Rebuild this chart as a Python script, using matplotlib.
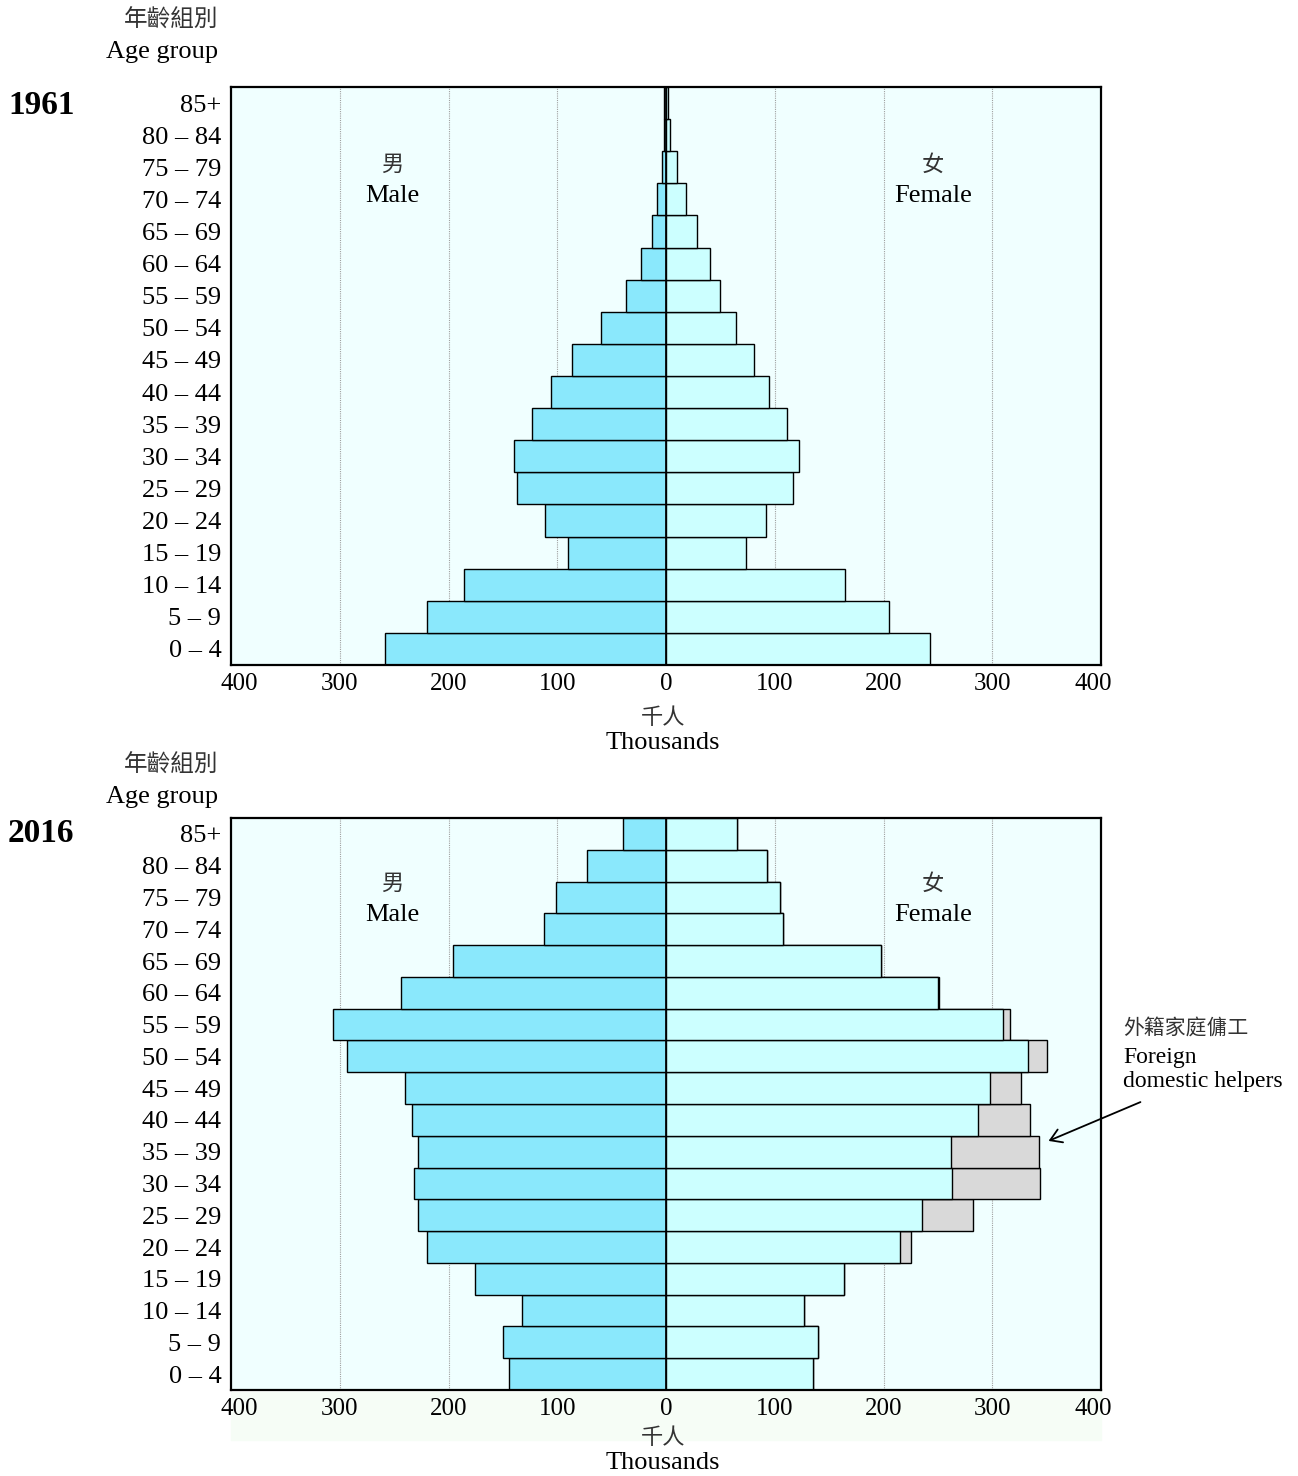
import numpy as np
import matplotlib.pyplot as plt
import matplotlib.transforms as mtrans
from matplotlib.patches import Rectangle, FancyArrowPatch

# Age groups, bottom to top
age_groups = ['0 – 4', '5 – 9', '10 – 14', '15 – 19', '20 – 24', '25 – 29',
              '30 – 34', '35 – 39', '40 – 44', '45 – 49', '50 – 54', '55 – 59',
              '60 – 64', '65 – 69', '70 – 74', '75 – 79', '80 – 84', '85+']

# 1961, thousands
male_1961 = [258, 220, 186, 90, 111, 137, 140, 123, 106, 86, 60, 37, 23, 13, 8, 4, 1.5, 1.5]
female_1961 = [243, 205, 165, 74, 92, 117, 122, 111, 95, 81, 64, 50, 40, 28.5, 18.5, 10, 4, 1.5]

# 2016, thousands (female excluding / including foreign domestic helpers)
male_2016 = [144, 150, 132, 176, 220, 228, 232, 228, 234, 240, 293, 306, 244, 196, 112, 101, 73, 40]
female_2016 = [135, 140, 127, 164, 215, 235, 263, 262, 287, 298, 333, 310, 250, 198, 108, 105, 93, 65]
female_2016_total = [135, 140, 127, 164, 225, 282, 344, 343, 335, 326, 350, 316, 251, 198, 108, 105, 93, 65]

xticks = [-400, -300, -200, -100, 0, 100, 200, 300, 400]

W, H = 1298, 1476
SERIF = ['Liberation Serif', 'DejaVu Serif']
CJK = ['Noto Sans CJK TC', 'DejaVu Sans']

male_col = '#8ae8fc'
female_col = '#ccffff'
fdh_col = '#d9d9d9'
bg_col = '#f0ffff'


def fx(x):
    return x / W


def fy(y):
    return 1 - y / H


fig = plt.figure(figsize=(W / 100, H / 100), dpi=100)


def pyramid(top, bottom, male, female, total=None):
    ax = fig.add_axes([fx(231), fy(bottom), fx(1101) - fx(231), fy(top) - fy(bottom)])
    ax.set_facecolor(bg_col)
    y = np.arange(len(age_groups))
    for g in [-300, -200, -100, 100, 200, 300]:
        ax.axvline(g, color='#a0a0a0', lw=0.8, ls=(0, (1, 1)), zorder=0)
    if total is not None:
        ax.barh(y, total, height=1, color=fdh_col, edgecolor='black', lw=1, zorder=2)
    ax.barh(y, -np.array(male), height=1, color=male_col, edgecolor='black', lw=1, zorder=3)
    ax.barh(y, female, height=1, color=female_col, edgecolor='black', lw=1, zorder=3)
    ax.axvline(0, color='black', lw=1.2, zorder=4)
    ax.set_xlim(-400, 400)
    ax.set_ylim(-0.5, len(age_groups) - 0.5)
    ax.set_yticks(y)
    ax.set_yticklabels(age_groups, family=SERIF, fontsize=19)
    ax.set_xticks(xticks)
    ax.set_xticklabels([str(abs(v)) for v in xticks], family=SERIF, fontsize=18)
    ax.tick_params(axis='y', length=0, pad=7)
    ax.tick_params(axis='x', length=0, pad=6)
    labels = ax.get_xticklabels()
    labels[0].set_transform(labels[0].get_transform() +
                            mtrans.ScaledTranslation(8 / 100, 0, fig.dpi_scale_trans))
    labels[-1].set_transform(labels[-1].get_transform() +
                             mtrans.ScaledTranslation(-8 / 100, 0, fig.dpi_scale_trans))
    for s in ax.spines.values():
        s.set_linewidth(1.6)
        s.set_zorder(5)
    return ax


ax1 = pyramid(87, 665, male_1961, female_1961)
ax2 = pyramid(818, 1390, male_2016, female_2016, female_2016_total)

# faint band under the bottom chart
fig.patches.append(Rectangle((fx(231), fy(1440)), fx(1101) - fx(231), fy(1392) - fy(1440),
                             transform=fig.transFigure, color='#f6fdf6', zorder=-5))

for hy, yy, year in [(0, 0, '1961'), (745, 728, '2016')]:
    fig.text(fx(218), fy(20 + hy), '年齡組別', family=CJK, fontsize=17,
             ha='right', va='center', color='#333333')
    fig.text(fx(218), fy(52 + hy), 'Age group', family=SERIF, fontsize=19,
             ha='right', va='center')
    fig.text(fx(8), fy(105 + yy), year, family=SERIF, fontsize=24,
             fontweight='bold', ha='left', va='center')

for off in [0, 720]:
    fig.text(fx(663), fy(717 + off), '千人', family=CJK, fontsize=16,
             ha='center', va='center', color='#333333')
    fig.text(fx(663), fy(743 + off), 'Thousands', family=SERIF, fontsize=19,
             ha='center', va='center')

for off in [0, 719]:
    fig.text(fx(392), fy(164 + off), '男', family=CJK, fontsize=16, ha='center', va='center', color='#333333')
    fig.text(fx(392), fy(196 + off), 'Male', family=SERIF, fontsize=19, ha='center', va='center')
    fig.text(fx(933), fy(164 + off), '女', family=CJK, fontsize=16, ha='center', va='center', color='#333333')
    fig.text(fx(933), fy(196 + off), 'Female', family=SERIF, fontsize=19, ha='center', va='center')

fig.text(fx(1123), fy(1028), '外籍家庭傭工', family=CJK, fontsize=15,
         ha='left', va='center', color='#333333')
fig.text(fx(1123), fy(1058), 'Foreign', family=SERIF, fontsize=17, ha='left', va='center')
fig.text(fx(1123), fy(1081), 'domestic helpers', family=SERIF, fontsize=17, ha='left', va='center')
fig.patches.append(FancyArrowPatch(
    (fx(1143), fy(1101)), (fx(1046), fy(1142)), transform=fig.transFigure,
    arrowstyle='->,head_length=8,head_width=5', color='black', lw=1.3))

fig.savefig('out.png', dpi=100)
